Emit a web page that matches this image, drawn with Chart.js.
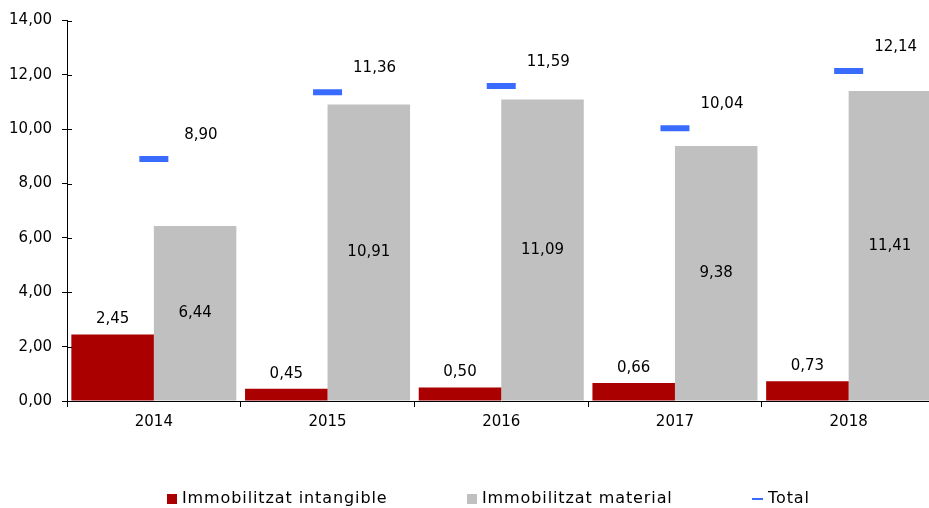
<!DOCTYPE html>
<html>
<head>
<meta charset="utf-8">
<script src="https://cdn.jsdelivr.net/npm/chart.js@4/dist/chart.umd.min.js"></script>
<style>
  html, body { margin: 0; padding: 0; background: #fff; overflow: hidden; }
  #wrap { position: relative; width: 956px; height: 508px; }
  #legend { position: absolute; top: 488px; left: 0; width: 929px; font: 16px "DejaVu Sans", Verdana, sans-serif; letter-spacing: 0.9px; color: #000; }
  #legend span { position: absolute; white-space: nowrap; }
  #legend i { display: inline-block; vertical-align: middle; margin-right: 5px; }
</style>
</head>
<body>
<div id="wrap">
  <canvas id="chart" width="956" height="508"></canvas>
  <div id="legend">
    <span style="left:167px"><i style="width:10px;height:10px;background:#aa0000"></i>Immobilitzat intangible</span>
    <span style="left:467px"><i style="width:10px;height:10px;background:#c0c0c0"></i>Immobilitzat material</span>
    <span style="left:752px"><i style="width:11px;height:2px;background:#3a6bff"></i>Total</span>
  </div>
</div>
<script>
// data
const years = ['2014', '2015', '2016', '2017', '2018'];
const intangible = [2.45, 0.45, 0.50, 0.66, 0.73];
const material = [6.44, 10.91, 11.09, 9.38, 11.41];
const total = [8.90, 11.36, 11.59, 10.04, 12.14];

const fmt = v => v.toFixed(2).replace('.', ',');
const FONT = '"DejaVu Sans", Verdana, sans-serif';

// value labels drawn after the datasets
const valueLabels = {
  id: 'valueLabels',
  afterDatasetsDraw(chart) {
    const ctx = chart.ctx;
    ctx.save();
    ctx.font = '15px ' + FONT;
    ctx.fillStyle = '#000';
    ctx.textAlign = 'center';
    ctx.textBaseline = 'middle';
    chart.getDatasetMeta(0).data.forEach((bar, i) => {
      ctx.fillText(fmt(intangible[i]), bar.x, bar.y - 15);
    });
    chart.getDatasetMeta(1).data.forEach((bar, i) => {
      ctx.fillText(fmt(material[i]), bar.x, (bar.y + bar.base) / 2);
    });
    chart.getDatasetMeta(2).data.forEach((pt, i) => {
      ctx.fillText(fmt(total[i]), pt.x + 47, pt.y - 24);
    });
    ctx.restore();
  }
};

// y ticks cross the axis line a little
const crossTicks = {
  id: 'crossTicks',
  afterDraw(chart) {
    const y = chart.scales.y;
    const ctx = chart.ctx;
    ctx.save();
    ctx.strokeStyle = '#000';
    ctx.lineWidth = 1;
    y.ticks.forEach(t => {
      const py = Math.round(y.getPixelForValue(t.value)) + 0.5;
      ctx.beginPath();
      ctx.moveTo(y.right, py);
      ctx.lineTo(y.right + 5, py);
      ctx.stroke();
    });
    ctx.restore();
  }
};

new Chart(document.getElementById('chart'), {
  type: 'bar',
  data: {
    labels: years,
    datasets: [
      { label: 'Immobilitzat intangible', data: intangible, backgroundColor: '#aa0000', order: 2 },
      { label: 'Immobilitzat material', data: material, backgroundColor: '#c0c0c0', order: 2 },
      {
        type: 'line', label: 'Total', data: total, showLine: false, order: 1,
        pointStyle: 'line', pointRadius: 14.5, pointHoverRadius: 14.5,
        borderColor: '#3a6bff', borderWidth: 6
      }
    ]
  },
  options: {
    responsive: false,
    animation: false,
    layout: { padding: { top: 18, right: 0, left: 0, bottom: 0 } },
    datasets: { bar: { categoryPercentage: 0.95, barPercentage: 1 } },
    plugins: { legend: { display: false }, tooltip: { enabled: false } },
    scales: {
      x: {
        afterFit: s => { s.height = 107; },
        grid: { offset: true, drawOnChartArea: false, tickLength: 6, color: '#000' },
        border: { color: '#000' },
        ticks: { color: '#000', font: { family: FONT, size: 15 }, padding: 6 }
      },
      y: {
        min: 0, max: 14,
        afterFit: s => { s.width = 67; },
        grid: { drawOnChartArea: false, tickLength: 5, color: '#000' },
        border: { color: '#000' },
        ticks: { stepSize: 2, color: '#000', font: { family: FONT, size: 15 }, padding: 10, callback: v => fmt(v) }
      }
    }
  },
  plugins: [valueLabels, crossTicks]
});
</script>
</body>
</html>
